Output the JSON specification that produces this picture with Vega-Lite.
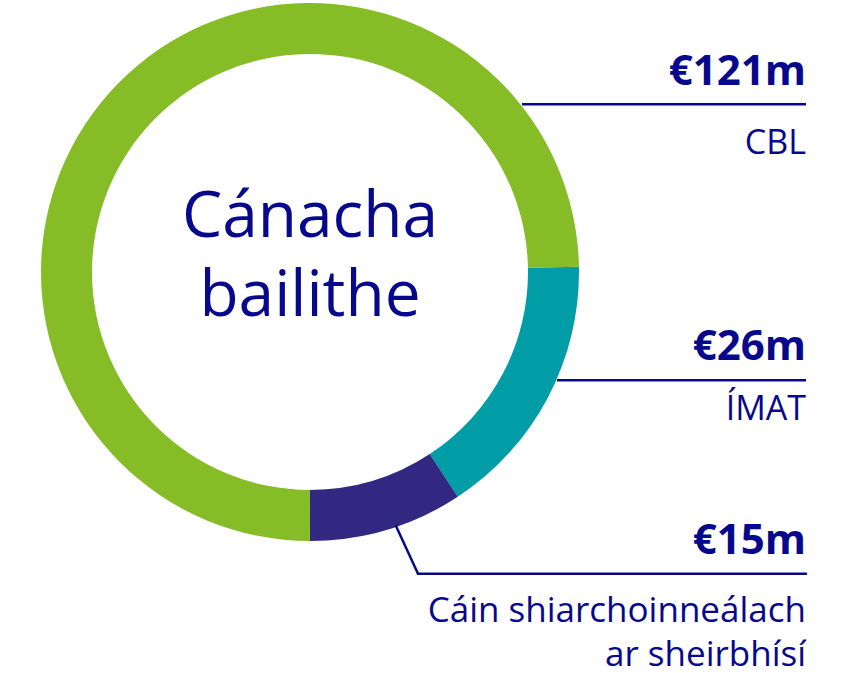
{
  "$schema": "https://vega.github.io/schema/vega-lite/v6.json",
  "width": 849,
  "height": 673,
  "autosize": {"type": "fit", "contains": "padding"},
  "padding": 0,
  "background": "white",
  "config": {"view": {"stroke": null}, "font": "Open Sans"},
  "data": {
    "values": [
      {"category": "ÍMAT", "value": 26, "amount": "€26m", "label": "ÍMAT", "ord": 1},
      {"category": "Cáin", "value": 15, "amount": "€15m", "label": "Cáin shiarchoinneálach\nar sheirbhísí", "ord": 2},
      {"category": "CBL", "value": 121, "amount": "€121m", "label": "CBL", "ord": 3}
    ]
  },
  "layer": [
    {
      "mark": {"type": "arc", "outerRadius": 269, "innerRadius": 218},
      "encoding": {
        "theta": {"field": "value", "type": "quantitative", "stack": true, "scale": {"range": [1.5516, 7.8348]}},
        "order": {"field": "ord", "type": "quantitative"},
        "color": {
          "field": "category",
          "type": "nominal",
          "scale": {"domain": ["CBL", "ÍMAT", "Cáin"], "range": ["#86bc25", "#009da7", "#322882"]},
          "legend": null
        },
        "x": {"datum": 310, "type": "quantitative", "scale": {"domain": [0, 849], "nice": false, "zero": false}, "axis": null},
        "y": {"datum": 274, "type": "quantitative", "scale": {"domain": [0, 673], "nice": false, "zero": false, "reverse": true}, "axis": null}
      }
    },
    {
      "data": {"values": [{"title": "Cánacha\nbailithe"}]},
      "mark": {"type": "text", "align": "center", "baseline": "alphabetic", "fontSize": 64, "lineHeight": 79, "lineBreak": "\n", "color": "#08088c"},
      "encoding": {
        "text": {"field": "title"},
        "x": {"datum": 310, "type": "quantitative"},
        "y": {"datum": 239, "type": "quantitative"}
      }
    },
    {
      "transform": [{"filter": "datum.category === 'CBL'"}],
      "layer": [
        {
          "mark": {"type": "rule", "color": "#08088c", "strokeWidth": 2.5},
          "encoding": {"x": {"datum": 522, "type": "quantitative"}, "x2": {"datum": 806}, "y": {"datum": 105, "type": "quantitative"}}
        },
        {
          "mark": {"type": "text", "align": "right", "baseline": "alphabetic", "fontSize": 42, "fontWeight": "bold", "color": "#08088c"},
          "encoding": {"text": {"field": "amount"}, "x": {"datum": 806, "type": "quantitative"}, "y": {"datum": 86, "type": "quantitative"}}
        },
        {
          "mark": {"type": "text", "align": "right", "baseline": "alphabetic", "fontSize": 34, "color": "#08088c"},
          "encoding": {"text": {"field": "label"}, "x": {"datum": 806, "type": "quantitative"}, "y": {"datum": 155, "type": "quantitative"}}
        }
      ]
    },
    {
      "transform": [{"filter": "datum.category === 'ÍMAT'"}],
      "layer": [
        {
          "mark": {"type": "rule", "color": "#08088c", "strokeWidth": 2.5},
          "encoding": {"x": {"datum": 557, "type": "quantitative"}, "x2": {"datum": 806}, "y": {"datum": 383, "type": "quantitative"}}
        },
        {
          "mark": {"type": "text", "align": "right", "baseline": "alphabetic", "fontSize": 42, "fontWeight": "bold", "color": "#08088c"},
          "encoding": {"text": {"field": "amount"}, "x": {"datum": 806, "type": "quantitative"}, "y": {"datum": 363, "type": "quantitative"}}
        },
        {
          "mark": {"type": "text", "align": "right", "baseline": "alphabetic", "fontSize": 34, "color": "#08088c"},
          "encoding": {"text": {"field": "label"}, "x": {"datum": 806, "type": "quantitative"}, "y": {"datum": 423, "type": "quantitative"}}
        }
      ]
    },
    {
      "transform": [{"filter": "datum.category === 'Cáin'"}],
      "layer": [
        {
          "mark": {"type": "rule", "color": "#08088c", "strokeWidth": 2.5, "strokeCap": "round"},
          "encoding": {"x": {"datum": 418, "type": "quantitative"}, "x2": {"datum": 806}, "y": {"datum": 578, "type": "quantitative"}}
        },
        {
          "mark": {"type": "rule", "color": "#08088c", "strokeWidth": 2.5, "strokeCap": "round"},
          "encoding": {"x": {"datum": 396, "type": "quantitative"}, "x2": {"datum": 418}, "y": {"datum": 530, "type": "quantitative"}, "y2": {"datum": 578}}
        },
        {
          "mark": {"type": "text", "align": "right", "baseline": "alphabetic", "fontSize": 42, "fontWeight": "bold", "color": "#08088c"},
          "encoding": {"text": {"field": "amount"}, "x": {"datum": 806, "type": "quantitative"}, "y": {"datum": 558, "type": "quantitative"}}
        },
        {
          "mark": {"type": "text", "align": "right", "baseline": "alphabetic", "fontSize": 35, "lineHeight": 44, "lineBreak": "\n", "color": "#08088c"},
          "encoding": {"text": {"field": "label"}, "x": {"datum": 806, "type": "quantitative"}, "y": {"datum": 627, "type": "quantitative"}}
        }
      ]
    }
  ]
}
